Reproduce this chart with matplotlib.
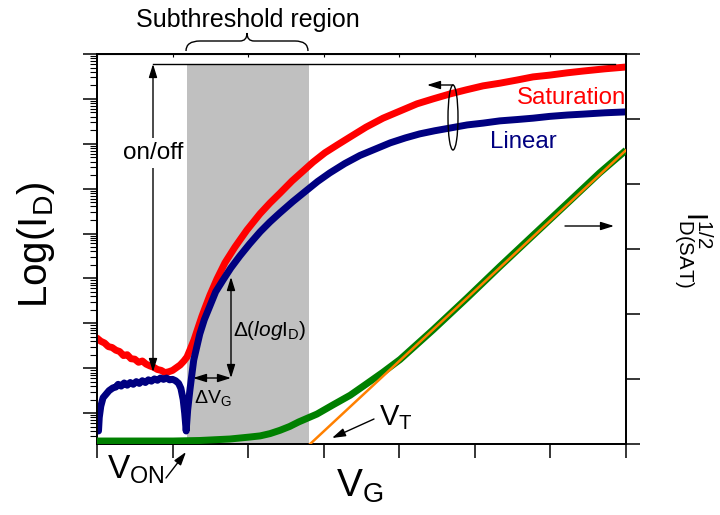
import numpy as np
import matplotlib
matplotlib.use("Agg")
import matplotlib.pyplot as plt
from matplotlib.ticker import LogLocator, NullFormatter
from matplotlib.patches import Ellipse, PathPatch
from matplotlib.path import Path
from matplotlib.lines import Line2D

plt.rcParams['font.family'] = ['Liberation Sans', 'DejaVu Sans']
plt.rcParams['mathtext.fontset'] = 'custom'
plt.rcParams['mathtext.rm'] = 'Liberation Sans'
plt.rcParams['mathtext.it'] = 'Liberation Sans:italic'
plt.rcParams['mathtext.bf'] = 'Liberation Sans:bold'

# saturation curve, log10(I_D) vs V_G
sat_vg = [0.00, 0.05, 0.10, 0.15, 0.20, 0.25, 0.30, 0.35, 0.40, 0.45, 0.50,
          0.55, 0.60, 0.65, 0.70, 0.75, 0.80, 0.85, 0.90, 0.95, 1.00, 1.05,
          1.10, 1.15, 1.191, 1.231, 1.284, 1.337, 1.389, 1.429, 1.495, 1.588,
          1.694, 1.826, 1.985, 2.157, 2.289, 2.422, 2.580, 2.726, 2.858,
          3.017, 3.176, 3.348, 3.560, 3.785, 4.010, 4.235, 4.447, 4.671,
          4.883, 5.108, 5.333, 5.558, 5.770, 5.994, 6.219, 6.431, 6.722, 7.00]
sat_log = [-9.33, -9.40, -9.44, -9.52, -9.54, -9.60, -9.63, -9.72, -9.70,
           -9.79, -9.80, -9.87, -9.84, -9.91, -9.95, -9.98, -10.03, -10.05,
           -10.10, -10.08, -10.05, -9.99, -9.93, -9.84, -9.75, -9.59, -9.37,
           -9.10, -8.84, -8.66, -8.37, -8.01, -7.65, -7.30, -6.92, -6.56,
           -6.32, -6.10, -5.83, -5.61, -5.41, -5.20, -5.03, -4.85, -4.63,
           -4.43, -4.27, -4.11, -4.00, -3.89, -3.80, -3.71, -3.65, -3.58,
           -3.51, -3.47, -3.42, -3.38, -3.33, -3.29]

# linear curve
lin_vg = [0.02, 0.03, 0.05, 0.08, 0.12, 0.16, 0.21, 0.25, 0.28, 0.32, 0.36,
          0.40, 0.44, 0.48, 0.52, 0.56, 0.60, 0.64, 0.68, 0.72, 0.76, 0.80,
          0.84, 0.88, 0.92, 0.96, 1.00, 1.04, 1.08, 1.11, 1.14, 1.16, 1.18,
          1.20, 1.23, 1.26, 1.28, 1.32, 1.36, 1.42, 1.50, 1.57, 1.67, 1.77,
          1.89, 2.02, 2.16, 2.29, 2.42, 2.59, 2.78, 2.92, 3.08, 3.28, 3.48,
          3.68, 3.88, 4.08, 4.27, 4.47, 4.67, 4.90, 5.11, 5.33, 5.56, 5.77,
          5.99, 6.22, 6.43, 6.72, 7.00]
lin_log = [-11.40, -11.10, -10.85, -10.66, -10.58, -10.50, -10.44, -10.42,
           -10.36, -10.40, -10.33, -10.38, -10.32, -10.36, -10.30, -10.34,
           -10.28, -10.32, -10.26, -10.29, -10.24, -10.27, -10.22, -10.25,
           -10.22, -10.26, -10.25, -10.28, -10.34, -10.45, -10.70, -11.00,
           -11.40, -10.93, -10.48, -10.08, -9.82, -9.53, -9.24, -8.92, -8.59,
           -8.30, -8.03, -7.77, -7.50, -7.23, -6.96, -6.74, -6.54, -6.29,
           -6.03, -5.84, -5.65, -5.44, -5.26, -5.12, -4.98, -4.87, -4.78,
           -4.71, -4.65, -4.58, -4.54, -4.49, -4.46, -4.43, -4.39, -4.36,
           -4.34, -4.31, -4.29]

# sqrt(I_D sat) vs V_G, right axis
sq_vg = [0.00, 1.01, 1.36, 1.76, 1.89, 2.02, 2.16, 2.29, 2.42, 2.55, 2.67,
         2.91, 3.12, 3.35, 3.56, 3.78, 4.01, 4.45, 4.90, 5.33, 5.77, 6.22,
         6.65, 7.00]
sq_val = [0.046, 0.046, 0.054, 0.077, 0.092, 0.107, 0.125, 0.16, 0.21, 0.27,
          0.34, 0.46, 0.60, 0.75, 0.92, 1.10, 1.30, 1.76, 2.25, 2.73, 3.21,
          3.70, 4.17, 4.52]

# linear extrapolation to V_T
fit_vg = [2.82, 7.00]
fit_val = [0.00, 4.52]

sub_lo, sub_hi = 1.19, 2.81

W, H = 720, 515


def fp(x, y):
    return (x / W, 1 - y / H)


fig = plt.figure(figsize=(7.2, 5.15), dpi=100)
ax = fig.add_axes([97 / W, 1 - 444 / H, (626 - 97) / W, (444 - 54) / H])

ax.axvspan(sub_lo, sub_hi, ymin=0, ymax=0.974, color='#c0c0c0', lw=0, zorder=0)
ax.plot(sat_vg, 10 ** np.array(sat_log), color='#ff0000', lw=5,
        solid_capstyle='round', solid_joinstyle='round', zorder=3)
ax.plot(lin_vg, 10 ** np.array(lin_log), color='#000080', lw=5,
        solid_capstyle='round', solid_joinstyle='round', zorder=4)
ax.set_yscale('log')
ax.set_xlim(0, 7)
ax.set_ylim(10 ** -11.69, 1e-3)
ax.yaxis.set_major_locator(LogLocator(base=10, numticks=100))
ax.yaxis.set_minor_locator(LogLocator(base=10, subs=np.arange(2, 10), numticks=100))
ax.yaxis.set_minor_formatter(NullFormatter())
ax.set_xticks(np.arange(0, 8))
ax.tick_params(axis='y', which='major', direction='out', length=10, width=1.1,
               labelleft=False, right=False)
ax.tick_params(axis='y', which='minor', direction='out', length=5, width=0.8,
               right=False)
ax.tick_params(axis='x', which='major', direction='out', length=10, width=1.1,
               labelbottom=False, top=False)
for s in ax.spines.values():
    s.set_linewidth(1.3)

top = ax.secondary_xaxis('top')
top.set_xticks(np.arange(0, 8))
top.tick_params(direction='in', length=2, width=0.8, labeltop=False)

ax2 = ax.twinx()
ax2.plot(sq_vg, sq_val, color='#008000', lw=5, solid_capstyle='butt',
         solid_joinstyle='round', zorder=3)
ax2.plot(fit_vg, fit_val, color='#ff8000', lw=1.8, zorder=4)
ax2.set_ylim(0, 6)
ax2.set_yticks(np.arange(0, 7))
ax2.tick_params(axis='y', direction='out', length=10, width=1.1, labelright=False)
for s in ax2.spines.values():
    s.set_linewidth(1.3)

# axis titles
fig.text(*fp(36, 245), r'Log(I$_\mathrm{D}$)', rotation=90, fontsize=29,
         ha='center', va='center')
fig.text(*fp(693, 250), r'$\mathrm{I}^{1/2}_{\mathrm{D(SAT)}}$', rotation=270,
         fontsize=21, ha='center', va='center')
fig.text(*fp(360, 486), r'V$_\mathrm{G}$', fontsize=28, ha='center', va='center')

# subthreshold region label with brace
fig.text(*fp(248, 20), 'Subthreshold region', fontsize=18, ha='center', va='center')
brace_px = [(186, 51), (186, 41), (200, 41), (240, 41), (247, 41), (247, 33),
            (247, 41), (254, 41), (295, 41), (308, 41), (308, 51)]
codes = [Path.MOVETO, Path.CURVE3, Path.CURVE3, Path.LINETO, Path.CURVE3,
         Path.CURVE3, Path.CURVE3, Path.CURVE3, Path.LINETO, Path.CURVE3,
         Path.CURVE3]
brace = Path([fp(x, y) for x, y in brace_px], codes)
fig.add_artist(PathPatch(brace, fc='none', ec='black', lw=1,
                         transform=fig.transFigure))

arrow = dict(arrowstyle='<|-|>,head_length=0.8,head_width=0.25', color='black',
             lw=1, shrinkA=0, shrinkB=0, mutation_scale=10)
single = dict(arrowstyle='-|>,head_length=0.8,head_width=0.25', color='black',
              lw=1, shrinkA=0, shrinkB=0, mutation_scale=10)

# on/off
fig.add_artist(Line2D([153 / W, 615 / W], [1 - 64 / H, 1 - 64 / H], color='black',
                      lw=1, transform=fig.transFigure))
ax.annotate('', xy=fp(153, 64), xytext=fp(153, 372), xycoords='figure fraction',
            textcoords='figure fraction', arrowprops=arrow)
fig.text(*fp(153, 153), 'on/off', fontsize=17.5, ha='center', va='center',
         bbox=dict(fc='white', ec='none', pad=3))

# subthreshold slope
ax.annotate('', xy=fp(231, 277), xytext=fp(231, 378), xycoords='figure fraction',
            textcoords='figure fraction', arrowprops=arrow)
ax.annotate('', xy=fp(193, 378), xytext=fp(231, 378), xycoords='figure fraction',
            textcoords='figure fraction', arrowprops=arrow)
fig.text(*fp(233, 330), r'Δ($\mathit{log}$I$_\mathrm{D}$)', fontsize=15,
         ha='left', va='center')
fig.text(*fp(194, 398), r'ΔV$_\mathrm{G}$', fontsize=14, ha='left', va='center')

# V_ON and V_T
fig.text(*fp(136, 470), r'V$_\mathrm{ON}$', fontsize=24, ha='center', va='center')
ax.annotate('', xy=fp(186, 452), xytext=fp(166, 478), xycoords='figure fraction',
            textcoords='figure fraction', arrowprops=single)
fig.text(*fp(379, 418), r'V$_\mathrm{T}$', fontsize=21, ha='left', va='center')
ax.annotate('', xy=fp(332, 438), xytext=fp(374, 419), xycoords='figure fraction',
            textcoords='figure fraction', arrowprops=single)

# curve labels
fig.text(*fp(517, 98), 'Saturation', fontsize=17.3, color='#ff0000', ha='left',
         va='center')
fig.text(*fp(490, 142), 'Linear', fontsize=17.3, color='#000080', ha='left',
         va='center')
fig.add_artist(Ellipse(fp(453, 117.5), 10 / W, 65 / H, fill=False, ec='black',
                       lw=1, transform=fig.transFigure))
ax.annotate('', xy=fp(427, 85), xytext=fp(453, 85), xycoords='figure fraction',
            textcoords='figure fraction', arrowprops=single)
ax.annotate('', xy=fp(614, 226), xytext=fp(565, 226), xycoords='figure fraction',
            textcoords='figure fraction', arrowprops=single)

fig.savefig('out.png', dpi=100)
